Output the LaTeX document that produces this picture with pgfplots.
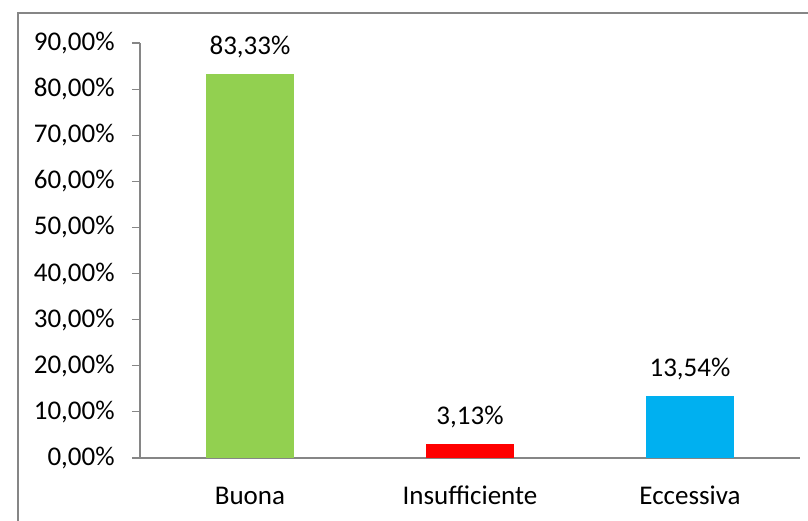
\documentclass[border=0pt]{standalone}
\usepackage{pgfplots}
\pgfplotsset{compat=1.18}
\usepackage{fontspec}
\setmainfont{Carlito}
\definecolor{axgray}{HTML}{868686}
\definecolor{cgreen}{HTML}{92D050}
\definecolor{cred}{HTML}{FF0000}
\definecolor{cblue}{HTML}{00B0F0}
\begin{document}
\begin{tikzpicture}
\fontsize{13.5}{16}\selectfont
\useasboundingbox (0,0) rectangle (404pt,260pt);
\draw[axgray, line width=0.9pt] (9pt,-5pt) -- (9pt,253.5pt) -- (410pt,253.5pt);
\begin{axis}[
  at={(70pt,31pt)}, anchor=south west,
  width=330pt, height=207.5pt, scale only axis,
  xmin=-0.5, xmax=2.5, ymin=0, ymax=90,
  axis x line*=bottom, axis y line*=left,
  axis line style={axgray, line width=0.6pt},
  tick style={axgray, line width=0.6pt},
  tick align=outside,
  ytick={0,10,...,90},
  yticklabels={{0,00\%},{10,00\%},{20,00\%},{30,00\%},{40,00\%},{50,00\%},{60,00\%},{70,00\%},{80,00\%},{90,00\%}},
  major tick length=4pt,
  xtick={0,1,2},
  xticklabels={Buona,Insufficiente,Eccessiva},
  x tick style={draw=none},
  extra x ticks={-0.5,0.5,1.5,2.5},
  extra x tick labels={},
  extra x tick style={tick style={draw=axgray, line width=0.6pt}},
  xticklabel style={yshift=-5pt, text height=9.5pt, text depth=0pt},
  yticklabel style={xshift=-4pt},
  /pgf/number format/assume math mode=true,
  ticklabel style={font=\fontsize{13.5}{16}\selectfont},
  clip=false,
]
\addplot[ybar, bar width=44pt, fill=cgreen, draw=none, bar shift=0pt,
  point meta=explicit symbolic, nodes near coords={\pgfplotspointmeta},
  nodes near coords style={font=\fontsize{13.5}{16}\selectfont, yshift=3pt}]
  coordinates {(0,83.33) [83,33\%]};
\addplot[ybar, bar width=44pt, fill=cred, draw=none, bar shift=0pt,
  point meta=explicit symbolic, nodes near coords={\pgfplotspointmeta},
  nodes near coords style={font=\fontsize{13.5}{16}\selectfont, yshift=3pt}]
  coordinates {(1,3.13) [3,13\%]};
\addplot[ybar, bar width=44pt, fill=cblue, draw=none, bar shift=0pt,
  point meta=explicit symbolic, nodes near coords={\pgfplotspointmeta},
  nodes near coords style={font=\fontsize{13.5}{16}\selectfont, yshift=3pt}]
  coordinates {(2,13.54) [13,54\%]};
\end{axis}
\end{tikzpicture}
\end{document}
